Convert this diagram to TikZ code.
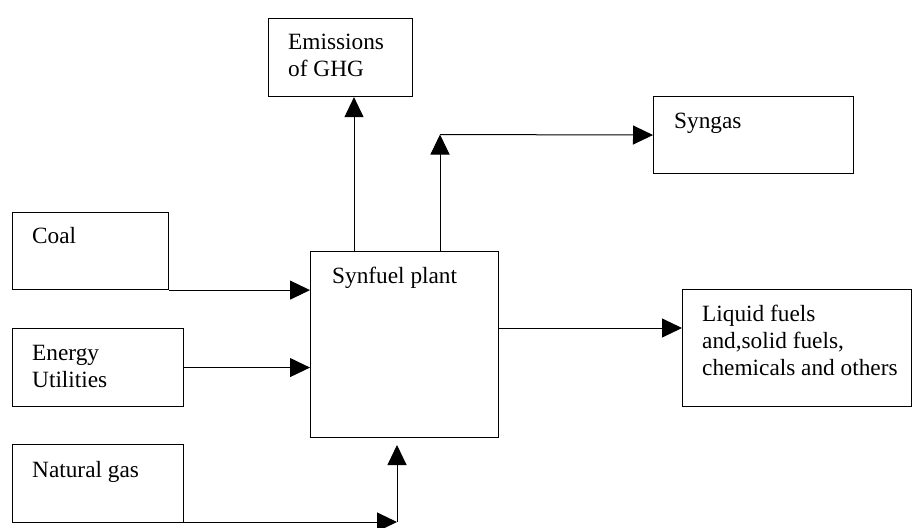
\documentclass[tikz,border=0pt]{standalone}
\usepackage{fontspec}
\setmainfont{Liberation Serif}
\usetikzlibrary{arrows.meta}
\begin{document}
\begin{tikzpicture}[x=1pt,y=-1pt,
  boxst/.style={draw,line width=1.1pt,minimum width=#1,inner sep=0pt,anchor=north west},
  lbl/.style={anchor=base west,inner sep=0pt,align=left,font=\fontsize{23.3}{27}\selectfont},
  arr/.style={line width=1pt,-{Triangle[length=20pt,width=19pt]}},
  ln/.style={line width=1pt}]
\useasboundingbox (0,0) rectangle (912,527);
% boxes
\node[boxst=144pt,minimum height=78pt] (emis) at (268,18) {};
\node[boxst=200pt,minimum height=77pt] (syn) at (653,96) {};
\node[boxst=156pt,minimum height=77pt] (coal) at (12,212) {};
\node[boxst=188pt,minimum height=186pt] (plant) at (310,251) {};
\node[boxst=171pt,minimum height=78pt] (energy) at (12,328) {};
\node[boxst=171pt,minimum height=78pt] (gas) at (12,444) {};
\node[boxst=229pt,minimum height=117pt] (liq) at (682,289) {};
% labels (base = baseline of the last line)
\node[lbl] (emist) at (288,77) {Emissions\\of GHG};
\node[lbl] (synt) at (674,128) {Syngas};
\node[lbl] (coalt) at (32,243) {Coal};
\node[lbl] (plantt) at (332,283) {Synfuel plant};
\node[lbl] (energyt) at (32,387) {Energy\\Utilities};
\node[lbl] (gast) at (32,477) {Natural gas};
\node[lbl] (liqt) at (702,375) {Liquid fuels\\and,solid fuels,\\chemicals and others};
% connector coordinates
\coordinate (emisfrom) at (354,251);
\coordinate (synfrom) at (440,251);
\coordinate (synbend) at (440,134.5);
\coordinate (liqfrom) at (498,328);
\coordinate (gasfrom) at (26,522);
\coordinate (gasbend) at (397,522);
\coordinate (gasto) at (397,445);
% connectors
\draw[arr] (emisfrom) -- (emisfrom |- emis.south);
\draw[arr] (synfrom) -- (synbend);
\draw[arr] (synbend) -- (syn.west);
\draw[arr] (coal.south east) -- (coal.south east -| plant.west);
\draw[arr] (energy.east) -- (energy.east -| plant.west);
\draw[arr] (liqfrom) -- (liqfrom -| liq.west);
\draw[arr] (gasfrom) -- (gasbend);
\draw[arr] (gasbend) -- (gasto);
\end{tikzpicture}
\end{document}
